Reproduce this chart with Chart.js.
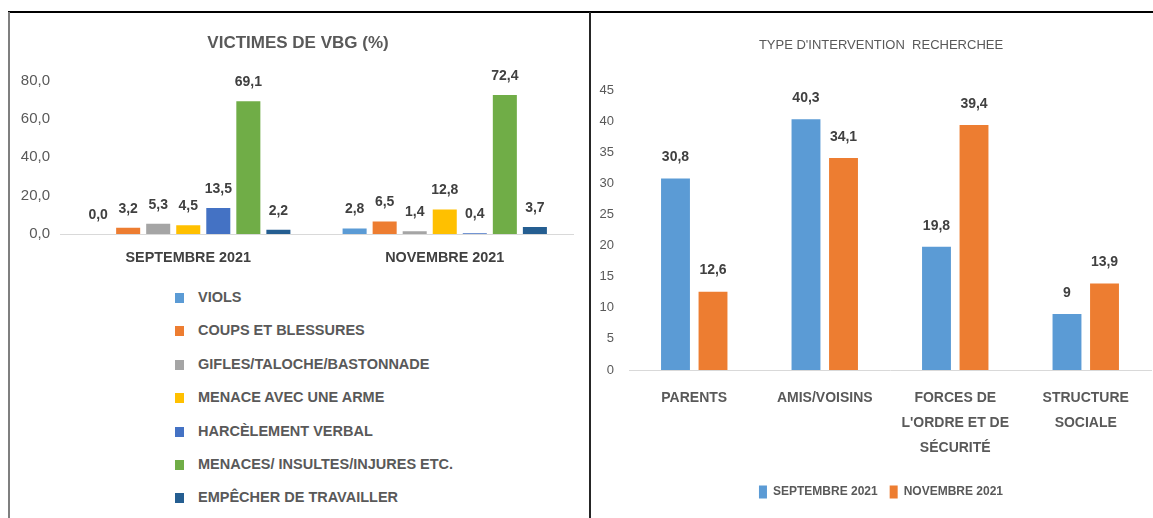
<!DOCTYPE html>
<html>
<head>
<meta charset="utf-8">
<script src="https://cdn.jsdelivr.net/npm/chart.js@4.4.0/dist/chart.umd.min.js"></script>
<style>
  body { margin: 0; background: #fff; width: 1153px; height: 518px; overflow: hidden; position: relative; }
  canvas { position: absolute; }
  .line { position: absolute; }
  #legend1 { position: absolute; left: 175px; top: 281px; margin: 0; padding: 0; list-style: none;
    font-family: 'Liberation Sans', Arial, sans-serif; font-weight: bold; font-size: 14.5px; color: #595959; }
  #legend1 li { height: 33.4px; line-height: 33.4px; white-space: nowrap; }
  #legend1 span { display: inline-block; width: 9px; height: 10px; margin-right: 14px; vertical-align: -1px; }
</style>
</head>
<body>
<div class="line" style="left:8px;top:11px;width:1145px;height:2px;background:#000"></div>
<div class="line" style="left:8px;top:12px;width:2px;height:506px;background:#7f7f7f"></div>
<div class="line" style="left:589px;top:12px;width:2px;height:506px;background:#262626"></div>
<canvas id="chart1" width="580" height="265" style="left:9px;top:13px"></canvas>
<ul id="legend1"></ul>
<canvas id="chart2" width="562" height="505" style="left:591px;top:13px"></canvas>
<script>
// Graphique 1 : victimes de VBG (%)
var periodes = ['SEPTEMBRE 2021', 'NOVEMBRE 2021'];
var typesVbg = ['VIOLS', 'COUPS ET BLESSURES', 'GIFLES/TALOCHE/BASTONNADE', 'MENACE AVEC UNE ARME',
  'HARCÈLEMENT VERBAL', 'MENACES/ INSULTES/INJURES ETC.', 'EMPÊCHER DE TRAVAILLER'];
var viols = [0.0, 2.8];
var coups = [3.2, 6.5];
var gifles = [5.3, 1.4];
var menaceArme = [4.5, 12.8];
var harcelement = [13.5, 0.4];
var insultes = [69.1, 72.4];
var empecher = [2.2, 3.7];
var couleursVbg = ['#5B9BD5', '#ED7D31', '#A5A5A5', '#FFC000', '#4472C4', '#70AD47', '#255E91'];

// Graphique 2 : type d'intervention recherchee
var interventions = [['PARENTS'], ['AMIS/VOISINS'], ['FORCES DE', "L'ORDRE ET DE", 'SÉCURITÉ'], ['STRUCTURE', 'SOCIALE']];
var septembre = [30.8, 40.3, 19.8, 9];
var novembre = [12.6, 34.1, 39.4, 13.9];

var POLICE = "'Liberation Sans', Arial, sans-serif";

function etiquettes(format, offset) {
  return {
    id: 'etiquettes',
    afterDatasetsDraw: function(chart) {
      var ctx = chart.ctx;
      ctx.save();
      ctx.font = 'bold 14px ' + POLICE;
      ctx.fillStyle = '#404040';
      ctx.textAlign = 'center';
      ctx.textBaseline = 'middle';
      chart.data.datasets.forEach(function(ds, i) {
        chart.getDatasetMeta(i).data.forEach(function(bar, j) {
          ctx.fillText(format(ds.data[j]), bar.x, bar.y - offset);
        });
      });
      ctx.restore();
    }
  };
}

// les graduations debordent dans la marge de gauche : pas de decoupage
function sansDecoupage(s) { s._computeLabelArea = function() { return undefined; }; }

var series1 = [viols, coups, gifles, menaceArme, harcelement, insultes, empecher];
var chart1 = new Chart(document.getElementById('chart1'), {
  type: 'bar',
  data: {
    labels: periodes,
    datasets: series1.map(function(d, i) {
      return { label: typesVbg[i], data: d, backgroundColor: couleursVbg[i],
        categoryPercentage: 0.82, barPercentage: 0.8 };
    })
  },
  options: {
    responsive: false,
    animation: false,
    layout: { padding: { left: 14, right: 16, top: 0, bottom: 12 } },
    plugins: {
      legend: { display: false },
      tooltip: { enabled: false },
      title: { display: true, text: 'VICTIMES DE VBG (%)', color: '#595959',
        font: { family: POLICE, size: 17, weight: 'bold' }, padding: { top: 20, bottom: 27 } }
    },
    scales: {
      x: {
        grid: { display: false, drawTicks: false },
        border: { display: true, color: '#d9d9d9' },
        ticks: { color: '#404040', padding: 15, font: { family: POLICE, size: 14.4, weight: 'bold' } },
        afterFit: function(s) { s.height = 32; }
      },
      y: {
        min: 0, max: 80,
        grid: { display: false, drawTicks: false },
        border: { display: false },
        ticks: { stepSize: 20, color: '#595959', padding: 10, font: { family: POLICE, size: 15 },
          callback: function(v) { return v.toFixed(1).replace('.', ','); } },
        afterFit: function(s) { s.width = 37; },
        afterUpdate: sansDecoupage
      }
    }
  },
  plugins: [etiquettes(function(v) { return v.toFixed(1).replace('.', ','); }, 19)]
});

// legende verticale du premier graphique
var ul = document.getElementById('legend1');
typesVbg.forEach(function(t, i) {
  var li = document.createElement('li');
  var sq = document.createElement('span');
  sq.style.background = couleursVbg[i];
  li.appendChild(sq);
  li.appendChild(document.createTextNode(t));
  ul.appendChild(li);
});

var chart2 = new Chart(document.getElementById('chart2'), {
  type: 'bar',
  data: {
    labels: interventions,
    datasets: [
      { label: 'SEPTEMBRE 2021', data: septembre, backgroundColor: '#5B9BD5', categoryPercentage: 0.575, barPercentage: 0.77 },
      { label: 'NOVEMBRE 2021', data: novembre, backgroundColor: '#ED7D31', categoryPercentage: 0.575, barPercentage: 0.77 }
    ]
  },
  options: {
    responsive: false,
    animation: false,
    layout: { padding: { left: 20, right: 2, top: 0, bottom: 9.5 } },
    plugins: {
      tooltip: { enabled: false },
      title: { display: true, text: "TYPE D'INTERVENTION  RECHERCHEE", color: '#595959',
        font: { family: POLICE, size: 13, weight: 'normal' }, padding: { top: 25, bottom: 36.5 } },
      legend: {
        position: 'bottom',
        labels: { boxWidth: 8, boxHeight: 13, padding: 12, color: '#595959',
          font: { family: POLICE, size: 12, weight: 'bold' } }
      }
    },
    scales: {
      x: {
        grid: { display: false, drawTicks: false },
        border: { display: true, color: '#d9d9d9' },
        ticks: { color: '#595959', padding: 15.5, maxRotation: 0, autoSkip: false,
          font: { family: POLICE, size: 14, weight: 'bold', lineHeight: '25px' } },
        afterFit: function(s) { s.height = 103.5; }
      },
      y: {
        min: 0, max: 45,
        grid: { display: false, drawTicks: false },
        border: { display: false },
        ticks: { stepSize: 5, color: '#595959', padding: 15, font: { family: POLICE, size: 13 } },
        afterFit: function(s) { s.width = 18; },
        afterUpdate: sansDecoupage
      }
    }
  },
  plugins: [etiquettes(function(v) { return String(v).replace('.', ','); }, 21)]
});
</script>
</body>
</html>
